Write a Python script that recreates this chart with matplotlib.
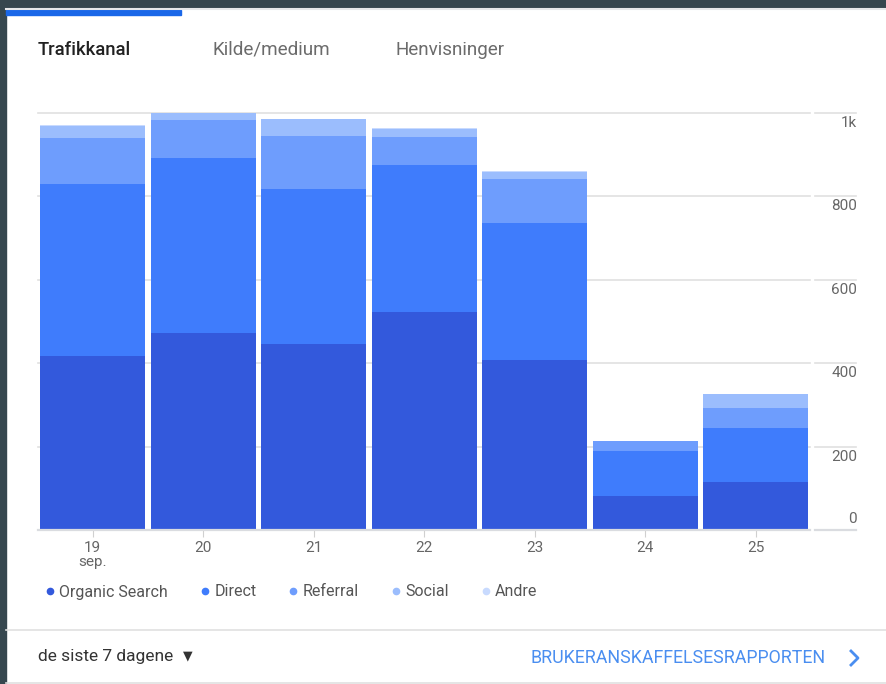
import matplotlib
matplotlib.use("Agg")
from matplotlib import pyplot as plt
from matplotlib.lines import Line2D
from matplotlib.patches import Rectangle

plt.rcParams['font.family'] = ['Roboto', 'DejaVu Sans']

# data (users per day, stacked by channel)
days = ["19\nsep.", "20", "21", "22", "23", "24", "25"]
channels = ["Organic Search", "Direct", "Referral", "Social", "Andre"]
organic = [417, 472, 445, 523, 408, 81, 116]
direct = [413, 420, 372, 352, 328, 109, 129]
referral = [109, 91, 129, 67, 106, 23, 48]
social = [30, 16, 39, 20, 17, 0, 33]
andre = [2, 1, 1, 1, 1, 0, 1]
colors = ["#3359dc", "#3f7cfc", "#6e9dfd", "#9bbdfd", "#c8dafe"]
y_ticks = [0, 200, 400, 600, 800, 1000]
y_labels = ["0", "200", "400", "600", "800", "1k"]

W, H = 887, 684


def fx(x):
    return x / W


def fy(y):
    return 1 - y / H


fig = plt.figure(figsize=[W / 100, H / 100], dpi=100)
fig.patch.set_facecolor("white")

# dark surroundings of the card
dark = "#36474f"
fig.add_artist(Rectangle((0, 0), fx(6), 1, transform=fig.transFigure, color=dark, zorder=0))
fig.add_artist(Rectangle((0, fy(8)), 1, 1 - fy(8), transform=fig.transFigure, color=dark, zorder=0))
fig.add_artist(Line2D([fx(6), 1], [fy(9), fy(9)], color="#e6e8ea", lw=1.5))
# active tab indicator
fig.add_artist(Rectangle((fx(6), fy(15)), fx(175), fy(10) - fy(15), transform=fig.transFigure,
                         color="#1a67e8", zorder=1))

# tabs
fig.text(fx(38), fy(50), "Trafikkanal", fontsize=13.3, color="#212121", va="center", weight="medium")
fig.text(fx(213), fy(50), "Kilde/medium", fontsize=13.6, color="#6b6b6b", va="center")
fig.text(fx(396), fy(50), "Henvisninger", fontsize=13.6, color="#6b6b6b", va="center")

# main chart
ax = fig.add_axes([fx(38), fy(530), fx(810) - fx(38), fy(113) - fy(530)])
x = range(len(days))
bottom = [0] * len(days)
for series, c in zip([organic, direct, referral, social, andre], colors):
    ax.bar(x, series, width=0.95, bottom=bottom, color=c, edgecolor="none", zorder=2)
    bottom = [b + v for b, v in zip(bottom, series)]

ax.set_xlim(-0.495, 6.493)
ax.set_ylim(0, 1000)
for v in y_ticks[1:]:
    ax.axhline(v, color="#e0e0e0", lw=1.2, zorder=1, clip_on=False)
ax.axhline(0, color="#dadce0", lw=1.6, zorder=3, clip_on=False)
for s in ax.spines.values():
    s.set_visible(False)
ax.set_yticks([])
ax.set_xticks(list(x))
ax.set_xticklabels(days, fontsize=11, color="#666666", linespacing=0.95, va="top")
ax.tick_params(axis="x", length=5, color="#d0d0d0", pad=3)

# right-side value labels with their own short gridlines
ax2 = fig.add_axes([fx(815), fy(530), fx(856) - fx(815), fy(113) - fy(530)])
ax2.set_ylim(0, 1000)
ax2.set_xlim(0, 1)
ax2.axis("off")
for v, lab in zip(y_ticks, y_labels):
    ax2.axhline(v, color="#e0e0e0" if v else "#dadce0", lw=1.2 if v else 1.6, clip_on=False)
    off = 11 if v == 0 else -10
    ax2.annotate(lab, xy=(1, v), xycoords=("axes fraction", "data"), xytext=(1, off),
                 textcoords="offset pixels", ha="right", va="center",
                 fontsize=11, color="#666666")

# legend
handles = [Line2D([], [], marker="o", ls="", color=c, markersize=4.5) for c in colors]
fig.legend(handles, channels, loc="center left", bbox_to_anchor=(fx(45), fy(592)), ncol=5,
           frameon=False, fontsize=11.5, handlelength=0.6, handletextpad=0.3,
           columnspacing=2.0, labelcolor="#555555", borderpad=0, borderaxespad=0)

# footer
fig.add_artist(Line2D([fx(6), 1], [fy(630), fy(630)], color="#e0e0e0", lw=1.2))
fig.add_artist(Line2D([fx(6), 1], [fy(683), fy(683)], color="#e0e0e0", lw=1.2))
fig.text(fx(38), fy(656), "de siste 7 dagene", fontsize=12.5, color="#333333", va="center")
fig.text(fx(183), fy(656), "\u25bc", fontsize=9, color="#333333", va="center", family="DejaVu Sans")
fig.text(fx(826), fy(658), "BRUKERANSKAFFELSESRAPPORTEN", fontsize=12.8, color="#4a8ef0",
         va="center", ha="right")
fig.add_artist(Line2D([fx(851), fx(858), fx(851)], [fy(651), fy(658), fy(665)],
                      color="#4a8ef0", lw=2))

fig.savefig("out.png", dpi=100)
